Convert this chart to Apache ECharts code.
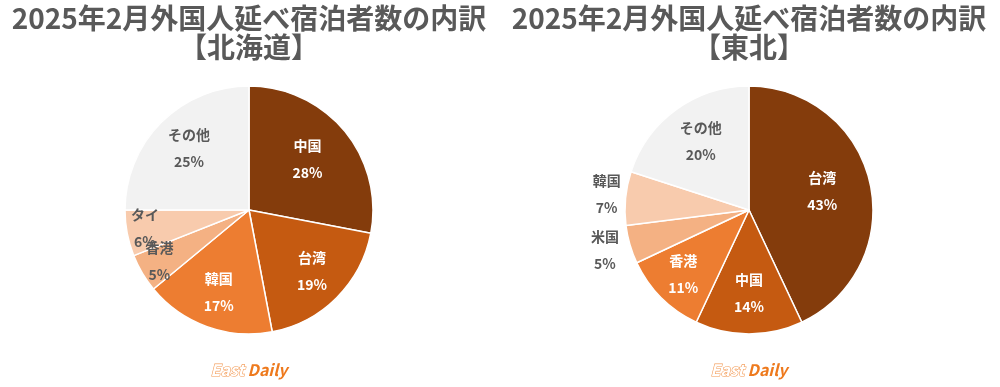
<!DOCTYPE html>
<html><head><meta charset="utf-8">
<script src="https://cdn.jsdelivr.net/npm/echarts@6/dist/echarts.min.js"></script>
<style>html,body{margin:0;background:#fff}#c{width:1000px;height:387px}</style></head>
<body><div id="c"></div>
<script>
const titleLine1 = '2025年2月外国人延べ宿泊者数の内訳';
const regions = ['【北海道】', '【東北】'];
const hokkaidoNames = ['中国', '台湾', '韓国', '香港', 'タイ', 'その他'];
const hokkaidoValues = [28, 19, 17, 5, 6, 25];
const tohokuNames = ['台湾', '中国', '香港', '米国', '韓国', 'その他'];
const tohokuValues = [43, 14, 11, 5, 7, 20];
const brandWords = ['East', 'Daily'];

// styles
const sliceColors = ['#843C0C', '#C55A11', '#ED7D31', '#F4B183', '#F8CBAD', '#F2F2F2'];
const labelColors = ['#ffffff', '#ffffff', '#ffffff', '#595959', '#595959', '#595959'];
const labelRadii = [[76, 89, 89, 104, 106, 85], [75, 85, 93, 150, 143, 82]];
const centers = [[249, 210], [749, 210]];
const R = 124;
const FONT = '"Noto Sans CJK JP", "Noto Sans", sans-serif';

const sets = [[hokkaidoNames, hokkaidoValues], [tohokuNames, tohokuValues]];

function midAngle(values, i) {
  const total = values.reduce((a, b) => a + b, 0);
  let cum = 0;
  for (let k = 0; k < i; k++) cum += values[k];
  return (cum + values[i] / 2) / total * Math.PI * 2;
}

const chart = echarts.init(document.getElementById('c'), null, {renderer: 'canvas'});
const series = sets.map(([names, values], s) => ({
  type: 'pie',
  center: centers[s],
  radius: [0, R],
  startAngle: 90,
  clockwise: true,
  silent: true,
  animation: false,
  itemStyle: {borderColor: '#ffffff', borderWidth: 1.5},
  label: {
    show: true, position: 'inside',
    fontFamily: FONT, fontWeight: 'bold', fontSize: 14, lineHeight: 27,
    formatter: p => p.name + '\n' + p.value + '%'
  },
  labelLine: {show: false},
  labelLayout: function (params) {
    const a = midAngle(values, params.dataIndex);
    const d = labelRadii[s][params.dataIndex];
    return {
      x: centers[s][0] + d * Math.sin(a),
      y: centers[s][1] - d * Math.cos(a) - 2,
      align: 'center', verticalAlign: 'middle'
    };
  },
  data: names.map((n, i) => ({
    name: n, value: values[i],
    itemStyle: {color: sliceColors[i]},
    label: {color: labelColors[i]}
  }))
}));

const graphics = [];
centers.forEach((c, s) => {
  graphics.push({
    type: 'text', x: c[0], y: 4, silent: true,
    style: {
      text: titleLine1 + '\n' + regions[s],
      align: 'center', verticalAlign: 'top',
      fill: '#595959', font: 'bold 28px ' + FONT, lineHeight: 29
    }
  });
  graphics.push({
    type: 'text', x: c[0], y: 370, silent: true,
    style: {
      text: '{a|' + brandWords[0] + '} {b|' + brandWords[1] + '}',
      align: 'center', verticalAlign: 'middle',
      rich: {
        a: {fontFamily: FONT, fontStyle: 'italic', fontWeight: 'bold', fontSize: 16, fill: '#ffffff', stroke: '#F39A55', lineWidth: 1.1},
        b: {fontFamily: FONT, fontStyle: 'italic', fontWeight: 'bold', fontSize: 16, fill: '#EE7A1E'}
      }
    }
  });
});

chart.setOption({
  backgroundColor: '#ffffff',
  animation: false,
  series: series,
  graphic: graphics
});
</script>
</body></html>
